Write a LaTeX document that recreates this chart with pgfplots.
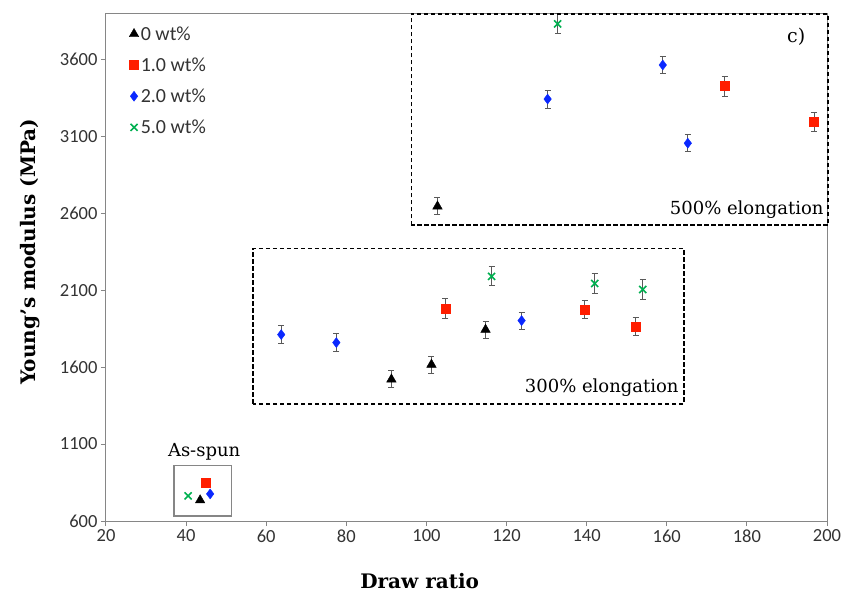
\documentclass[border=0pt]{standalone}
\usepackage{pgfplots}
\pgfplotsset{compat=1.18}
\usepackage{pgfplotstable}
\usepackage{fontspec}
\setmainfont{DejaVu Serif}
\newfontfamily\carlito{Carlito}

\definecolor{cRed}{RGB}{255,30,0}
\definecolor{cBlue}{RGB}{10,40,255}
\definecolor{cGreen}{RGB}{0,176,80}
\definecolor{axgray}{RGB}{134,134,134}

% x y err  (stretched samples)
\pgfplotstableread{
x      y     e
91.25  1520  55
101.25 1616  55
114.75 1843  55
102.75 2644  55
}\zeroWt
\pgfplotstableread{
x      y     e
104.75 1980  65
139.5  1974  60
152.25 1863  60
174.5  3426  65
196.75 3191  60
}\oneWt
\pgfplotstableread{
x      y     e
63.75  1811  58
77.5   1759  58
123.75 1902  55
130.25 3341  58
159    3562  55
165.25 3054  55
}\twoWt
\pgfplotstableread{
x      y     e
116.25 2189  62
142    2143  62
154    2104  62
132.75 3829  65
}\fiveWt

\begin{document}
\begin{tikzpicture}
\begin{axis}[
    at={(0,0)}, anchor=south west,
    scale only axis,
    width=721pt, height=508pt,
    xmin=20, xmax=200, ymin=600, ymax=3900,
    xtick={20,40,...,200},
    ytick={600,1100,...,3600},
    axis line style={axgray, line width=1pt},
    tick style={axgray, line width=1pt},
    tick align=outside,
    major tick length=5pt,
    xtick pos=bottom, ytick pos=left,
    /pgf/number format/assume math mode=true,
    /pgf/number format/set thousands separator={},
    ticklabel style={font=\carlito\fontsize{18.5}{20}\selectfont, text=black!80},
    xlabel={Draw ratio},
    ylabel={Young's modulus (MPa)},
    label style={font=\bfseries\fontsize{20}{22}\selectfont},
    xlabel style={at={(axis description cs:0.435,-0.118)}, anchor=center},
    ylabel style={at={(axis description cs:-0.105,0.53)}, anchor=center},
    clip=false,
    legend style={at={(0.032,0.978)}, anchor=north west, draw=none, fill=none,
        font=\carlito\fontsize{20}{22}\selectfont, text=black!80,
        row sep=12pt, inner sep=0pt},
    legend cell align=left,
    error bars/y dir=both, error bars/y explicit,
    error bars/error bar style={black!65, line width=0.9pt},
    error bars/error mark options={rotate=90, black!65, mark size=3pt, line width=0.9pt},
]
\addplot[only marks, mark=triangle*, mark size=5.5pt, black]
    table[x=x, y=y, y error=e] {\zeroWt};
\addlegendentry{0 wt\%}
\addplot[only marks, mark=square*, mark size=4.5pt, cRed]
    table[x=x, y=y, y error=e] {\oneWt};
\addlegendentry{1.0 wt\%}
\addplot[only marks, mark=diamond*, mark size=5pt, cBlue]
    table[x=x, y=y, y error=e] {\twoWt};
\addlegendentry{2.0 wt\%}
\addplot[only marks, mark=x, mark size=5pt, line width=1.6pt, cGreen]
    table[x=x, y=y, y error=e] {\fiveWt};
\addlegendentry{5.0 wt\%}

% as-spun samples, no error bars
\addplot[only marks, mark=triangle*, mark size=5.5pt, black, forget plot, error bars/y dir=none]
    coordinates {(43.5,735)};
\addplot[only marks, mark=square*, mark size=4.5pt, cRed, forget plot, error bars/y dir=none]
    coordinates {(45,847)};
\addplot[only marks, mark=diamond*, mark size=5pt, cBlue, forget plot, error bars/y dir=none]
    coordinates {(46,776)};
\addplot[only marks, mark=x, mark size=5pt, line width=1.6pt, cGreen, forget plot, error bars/y dir=none]
    coordinates {(40.5,763)};

% annotation boxes
\draw[black, line width=1.7pt, dash pattern=on 4.5pt off 2.5pt]
    (axis cs:96.25,2521) rectangle (axis cs:200.25,3895);
\draw[black, line width=1.7pt, dash pattern=on 4.5pt off 2.5pt]
    (axis cs:56.75,1362) rectangle (axis cs:164.25,2371);
\draw[axgray, line width=1.2pt] (axis cs:37,633) rectangle (axis cs:51.25,958);

\node[anchor=east, font=\fontsize{18}{20}\selectfont, inner sep=0pt] at (axis cs:199.2,2625) {500\% elongation};
\node[anchor=east, font=\fontsize{18}{20}\selectfont, inner sep=0pt] at (axis cs:163,1466) {300\% elongation};
\node[font=\fontsize{18}{20}\selectfont, inner sep=0pt] at (axis cs:44.5,1052) {As-spun};
\node[font=\fontsize{19}{20}\selectfont, inner sep=0pt] at (axis cs:192.3,3745) {c)};
\end{axis}
\pgfresetboundingbox
\path (-106pt,-74pt) rectangle (739pt,521pt);
\end{tikzpicture}
\end{document}
